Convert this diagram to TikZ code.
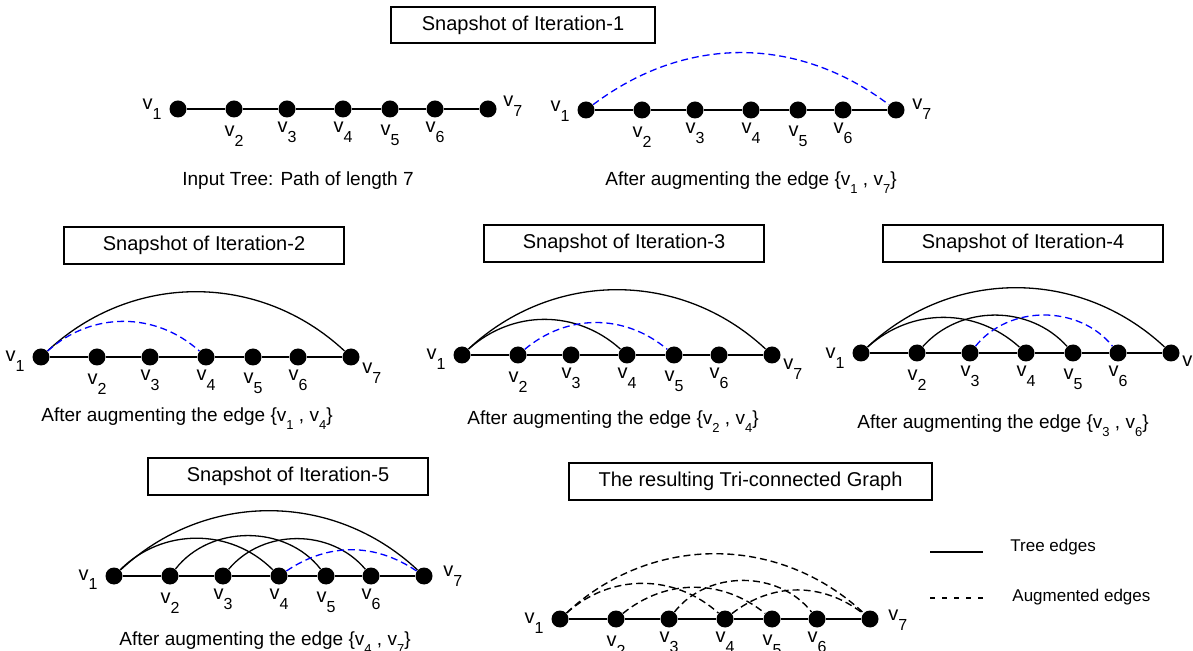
\documentclass[tikz,border=0pt]{standalone}
\usepackage{fontspec}
\usepackage{xcolor}
\setmainfont{Liberation Sans}

\newcommand{\vn}[1]{v\raisebox{-5pt}{\fontsize{8}{9}\selectfont #1}}
\newcommand{\ve}[1]{v\raisebox{-4pt}{\fontsize{6.5}{7}\selectfont #1}}

\begin{document}
\begin{tikzpicture}[x=0.5pt, y=-0.5pt,
    dot/.style={circle, fill=black, inner sep=0pt, minimum size=8.5pt},
    tree/.style={line width=0.75pt},
    tedge/.style={line width=0.65pt},
    augblue/.style={line width=0.65pt, draw=blue, dash pattern=on 3.5pt off 2pt},
    augdash/.style={line width=0.7pt, dash pattern=on 3.5pt off 2pt},
    vlab/.style={inner sep=0pt, font=\fontsize{10}{12}\selectfont},
    capt/.style={inner sep=0pt, anchor=base, font=\fontsize{9.5}{11}\selectfont},
    snapbox/.style={draw, line width=0.6pt, minimum width=140pt, minimum height=18.5pt, font=\fontsize{10}{12}\selectfont},
    legtext/.style={inner sep=0pt, anchor=west, font=\fontsize{8.5}{10}\selectfont}]
  \useasboundingbox (0,0) rectangle (1193,651);

  % snapshot boxes
  \node[snapbox, minimum width=132pt, minimum height=18pt] (box1) at (523,25) {Snapshot of Iteration-1};
  \node[snapbox] (box2) at (204,245.5) {Snapshot of Iteration-2};
  \node[snapbox] (box3) at (624,243.5) {Snapshot of Iteration-3};
  \node[snapbox] (box4) at (1023,243.5) {Snapshot of Iteration-4};
  \node[snapbox] (box5) at (288,476.5) {Snapshot of Iteration-5};
  \node[snapbox, minimum width=181.5pt] (box6) at (750.5,481.5) {The resulting Tri-connected Graph};

  % the seven paths v1 ... v7
  \foreach \p/\ox/\oy/\ly/\rx/\ry in {a/178/109/1/15/-2, b/586/110/2/16/0, c/41/357/5/11/17,
      d/462/355/5/11/15, e/861/353/6/11/14, f/114/576/4/19/0, g/560/619/4/18/1}{
    \foreach \i/\dx in {1/0,2/56,3/109,4/165,5/212,6/257,7/310}
      \node[dot] (\p\i) at ({\ox+\dx},\oy) {};
    \draw[tree] (\p1) -- (\p2) -- (\p3) -- (\p4) -- (\p5) -- (\p6) -- (\p7);
    \node[vlab, anchor=base east] (l\p1) at ({\ox-16},{\oy+\ly}) {\vn{1}};
    \node[vlab, anchor=base west] (l\p7) at ({\ox+310+\rx},{\oy+(\ry)}) {\vn{7}};
    \foreach \i/\dx/\dy in {2/56/17,3/109/13,4/165/13,5/212/16,6/257/13}
      \node[vlab, anchor=north] (l\p\i) at ({\ox+\dx},{\oy+\dy}) {\vn{\i}};
  }

  % iteration 1
  \draw[augblue] (b1) to[bend left=37] (b7);
  % iteration 2
  \draw[tedge] (c1) to[bend left=43] (c7);
  \draw[augblue] (c1) to[bend left=42] (c4);
  % iteration 3
  \draw[tedge] (d1) to[bend left=43] (d7);
  \draw[tedge] (d1) to[bend left=42] (d4);
  \draw[augblue] (d2) to[bend left=40] (d5);
  % iteration 4
  \draw[tedge] (e1) to[bend left=43] (e7);
  \draw[tedge] (e1) to[bend left=42] (e4);
  \draw[tedge] (e2) to[bend left=48] (e5);
  \draw[augblue] (e3) to[bend left=51] (e6);
  % iteration 5
  \draw[tedge] (f1) to[bend left=43] (f7);
  \draw[tedge] (f1) to[bend left=45] (f4);
  \draw[tedge] (f2) to[bend left=52] (f5);
  \draw[tedge] (f3) to[bend left=50] (f6);
  \draw[augblue] (f4) to[bend left=34] (f7);
  % resulting graph
  \draw[augdash] (g1) to[bend left=43] (g7);
  \draw[augdash] (g1) to[bend left=42] (g4);
  \draw[augdash] (g2) to[bend left=39] (g5);
  \draw[augdash] (g3) to[bend left=52] (g6);
  \draw[augdash] (g4) to[bend left=38] (g7);

  % captions
  \node[capt] (cap1) at (298,186) {Input Tree: Path of length 7};
  \node[capt] (cap2) at (751,186) {After augmenting the edge \{\ve{1} , \ve{7}\}};
  \node[capt] (cap3) at (187,422) {After augmenting the edge \{\ve{1} , \ve{4}\}};
  \node[capt] (cap4) at (613,425) {After augmenting the edge \{\ve{2} , \ve{4}\}};
  \node[capt] (cap5) at (1003,429) {After augmenting the edge \{\ve{3} , \ve{6}\}};
  \node[capt] (cap6) at (265,645) {After augmenting the edge \{\ve{4} , \ve{7}\}};

  % legend
  \coordinate (t0) at (930,552);
  \coordinate (t1) at (983,552);
  \coordinate (u0) at (930,598);
  \coordinate (u1) at (983,598);
  \draw[line width=0.75pt] (t0) -- (t1);
  \draw[line width=0.6pt, dash pattern=on 2.5pt off 3.5pt] (u0) -- (u1);
  \node[legtext] (tree) at (1010,547) {Tree edges};
  \node[legtext] (augm) at (1012,597) {Augmented edges};
\end{tikzpicture}
\end{document}
